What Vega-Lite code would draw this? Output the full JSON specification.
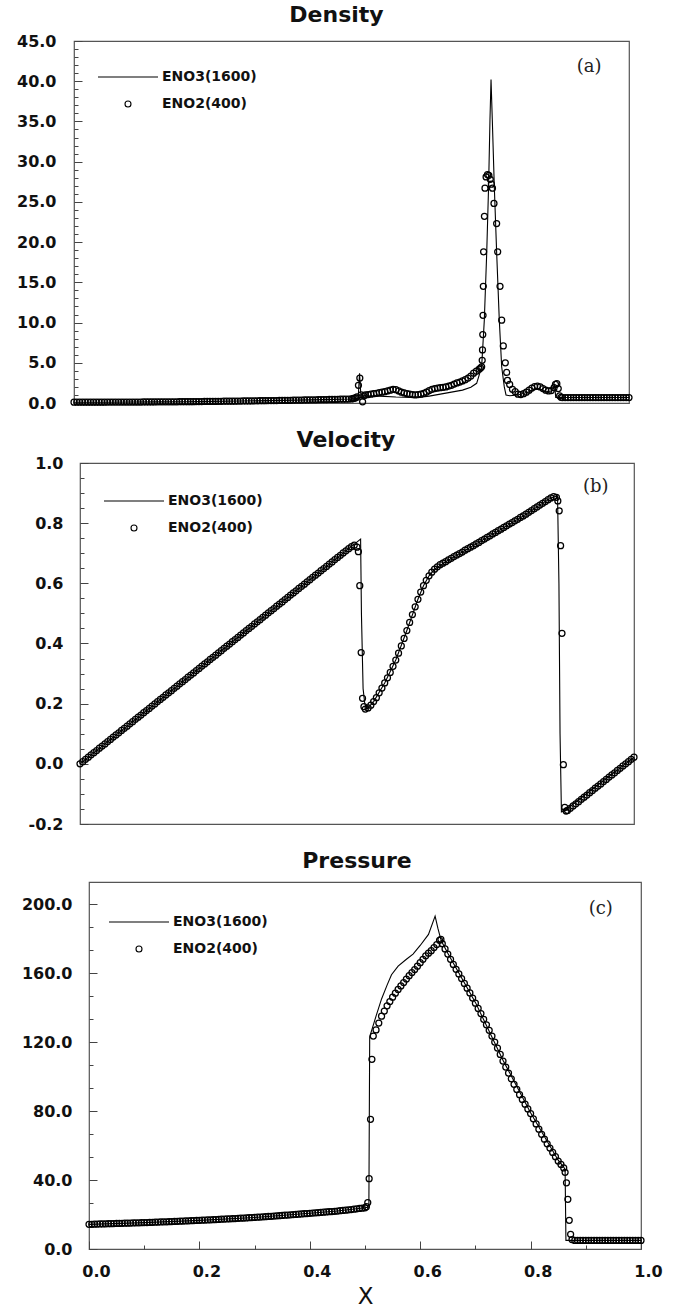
{
"$schema": "https://vega.github.io/schema/vega-lite/v6.json",
"padding": {"left": 0, "top": 3, "right": 0, "bottom": 0},
"background": "white",
"spacing": 16,
"resolve": {"scale": {"shape": "independent", "size": "independent"}, "legend": {"shape": "independent", "size": "independent"}},
"config": {
  "view": {"stroke": "#555", "strokeWidth": 1.2},
  "axis": {"labelFont": "DejaVu Sans", "labelFontWeight": "bold", "labelFontSize": 16, "labelColor": "#111", "tickColor": "#444", "tickWidth": 1, "domain": false, "grid": false, "labelOverlap": false, "labelBound": false, "labelFlush": false, "title": null, "tickCount": 100},
  "title": {"font": "DejaVu Sans", "fontWeight": "bold", "fontSize": 22, "color": "#111", "anchor": "middle", "frame": "group", "baseline": "alphabetic"},
  "legend": {"labelFont": "DejaVu Sans", "labelFontWeight": "bold", "labelFontSize": 14, "labelColor": "#111", "symbolStrokeColor": "black", "symbolStrokeWidth": 1.1, "labelOffset": 3, "padding": 0, "rowPadding": 13}
},
"datasets": {
"den": [{"x":0,"a":0.1,"b":0.1},{"x":0.005,"b":0.1},{"x":0.01,"b":0.1},{"x":0.015,"b":0.1},{"x":0.02,"b":0.1},{"x":0.025,"b":0.1},{"x":0.03,"b":0.1},{"x":0.035,"b":0.1},{"x":0.04,"b":0.1},{"x":0.045,"b":0.1},{"x":0.05,"a":0.1,"b":0.1},{"x":0.055,"b":0.1},{"x":0.06,"b":0.11},{"x":0.065,"b":0.11},{"x":0.07,"b":0.11},{"x":0.075,"b":0.11},{"x":0.08,"b":0.11},{"x":0.085,"b":0.11},{"x":0.09,"b":0.11},{"x":0.095,"b":0.11},{"x":0.1,"a":0.12,"b":0.12},{"x":0.105,"b":0.12},{"x":0.11,"b":0.12},{"x":0.115,"b":0.12},{"x":0.12,"b":0.12},{"x":0.125,"b":0.13},{"x":0.13,"b":0.13},{"x":0.135,"b":0.13},{"x":0.14,"b":0.13},{"x":0.145,"b":0.13},{"x":0.15,"a":0.14,"b":0.14},{"x":0.155,"b":0.14},{"x":0.16,"b":0.14},{"x":0.165,"b":0.14},{"x":0.17,"b":0.15},{"x":0.175,"b":0.15},{"x":0.18,"b":0.15},{"x":0.185,"b":0.15},{"x":0.19,"b":0.16},{"x":0.195,"b":0.16},{"x":0.2,"a":0.16,"b":0.16},{"x":0.205,"b":0.17},{"x":0.21,"b":0.17},{"x":0.215,"b":0.17},{"x":0.22,"b":0.18},{"x":0.225,"b":0.18},{"x":0.23,"b":0.18},{"x":0.235,"b":0.19},{"x":0.24,"b":0.19},{"x":0.245,"b":0.2},{"x":0.25,"a":0.2,"b":0.2},{"x":0.255,"b":0.2},{"x":0.26,"b":0.21},{"x":0.265,"b":0.21},{"x":0.27,"b":0.22},{"x":0.275,"b":0.22},{"x":0.28,"b":0.23},{"x":0.285,"b":0.23},{"x":0.29,"b":0.23},{"x":0.295,"b":0.24},{"x":0.3,"a":0.24,"b":0.24},{"x":0.305,"b":0.25},{"x":0.31,"b":0.25},{"x":0.315,"b":0.26},{"x":0.32,"b":0.26},{"x":0.325,"b":0.27},{"x":0.33,"b":0.27},{"x":0.335,"b":0.28},{"x":0.34,"b":0.28},{"x":0.345,"b":0.29},{"x":0.35,"a":0.3,"b":0.3},{"x":0.355,"b":0.3},{"x":0.36,"b":0.31},{"x":0.365,"b":0.31},{"x":0.37,"b":0.32},{"x":0.375,"b":0.33},{"x":0.38,"b":0.33},{"x":0.385,"b":0.34},{"x":0.39,"b":0.34},{"x":0.395,"b":0.35},{"x":0.4,"a":0.36,"b":0.36},{"x":0.405,"b":0.36},{"x":0.41,"b":0.37},{"x":0.415,"b":0.38},{"x":0.42,"b":0.38},{"x":0.425,"b":0.39},{"x":0.43,"b":0.4},{"x":0.435,"b":0.4},{"x":0.44,"b":0.41},{"x":0.445,"b":0.42},{"x":0.45,"a":0.42,"b":0.42},{"x":0.455,"b":0.43},{"x":0.46,"b":0.44},{"x":0.465,"b":0.45},{"x":0.47,"b":0.45},{"x":0.475,"b":0.46},{"x":0.48,"b":0.47},{"x":0.485,"b":0.48},{"x":0.49,"b":0.48},{"x":0.495,"b":0.49},{"x":0.5,"a":0.5,"b":0.5},{"x":0.5025,"b":0.55},{"x":0.505,"b":0.6},{"x":0.5075,"b":0.65},{"x":0.51,"b":0.75},{"x":0.512,"a":0.58},{"x":0.5125,"b":2.2},{"x":0.5145,"a":3.7},{"x":0.515,"b":3.1},{"x":0.517,"a":0.85},{"x":0.5175,"b":1.0},{"x":0.52,"a":0.9,"b":0.15},{"x":0.5225,"b":0.9},{"x":0.525,"b":1.0},{"x":0.53,"b":1.05},{"x":0.535,"b":1.1},{"x":0.54,"b":1.15},{"x":0.545,"b":1.2},{"x":0.55,"a":0.85,"b":1.3},{"x":0.555,"b":1.35},{"x":0.56,"b":1.4},{"x":0.565,"b":1.5},{"x":0.57,"b":1.6},{"x":0.575,"b":1.7},{"x":0.58,"a":0.75,"b":1.65},{"x":0.585,"b":1.5},{"x":0.59,"b":1.35},{"x":0.595,"b":1.25},{"x":0.6,"b":1.15},{"x":0.605,"b":1.1},{"x":0.61,"a":0.7,"b":1.05},{"x":0.615,"b":1.0},{"x":0.62,"a":0.7,"b":1.05},{"x":0.625,"b":1.1},{"x":0.63,"b":1.2},{"x":0.635,"b":1.35},{"x":0.64,"a":0.85,"b":1.55},{"x":0.645,"b":1.7},{"x":0.65,"b":1.8},{"x":0.655,"b":1.85},{"x":0.66,"a":1.1,"b":1.9},{"x":0.665,"b":1.95},{"x":0.67,"b":2.0},{"x":0.675,"b":2.1},{"x":0.68,"a":1.35,"b":2.2},{"x":0.685,"b":2.35},{"x":0.69,"b":2.5},{"x":0.695,"b":2.6},{"x":0.7,"a":1.6,"b":2.75},{"x":0.705,"b":2.9},{"x":0.71,"b":3.1},{"x":0.715,"a":1.95,"b":3.35},{"x":0.72,"b":3.7},{"x":0.725,"b":3.95},{"x":0.7255,"a":2.45},{"x":0.73,"b":4.2},{"x":0.7325,"b":4.35},{"x":0.7345,"a":4.5,"b":4.5},{"x":0.7355,"b":5.3},{"x":0.736,"b":6.6},{"x":0.7365,"b":8.5},{"x":0.737,"b":10.9},{"x":0.7375,"b":14.5},{"x":0.738,"b":18.8},{"x":0.7393,"a":10.3},{"x":0.7395,"b":23.2},{"x":0.7405,"b":26.7},{"x":0.7425,"b":28.1},{"x":0.7436,"a":18.6},{"x":0.745,"b":28.4},{"x":0.747,"a":26.9},{"x":0.7475,"b":28.3},{"x":0.7495,"a":35.2},{"x":0.75,"b":27.8},{"x":0.7514,"a":40.2},{"x":0.752,"b":27.2},{"x":0.7537,"a":35.2},{"x":0.754,"b":26.7},{"x":0.7567,"b":24.8},{"x":0.7573,"a":26.9},{"x":0.7615,"b":22.3},{"x":0.7616,"a":18.6},{"x":0.7634,"b":18.8},{"x":0.7663,"a":10.3},{"x":0.7676,"b":14.5},{"x":0.7706,"a":4.5,"b":10.3},{"x":0.7735,"b":7.1},{"x":0.7753,"a":2.0},{"x":0.7771,"b":5.0},{"x":0.7784,"a":1.0},{"x":0.7796,"b":3.8},{"x":0.781,"b":2.8},{"x":0.785,"a":0.9,"b":2.3},{"x":0.79,"b":1.7},{"x":0.795,"b":1.4},{"x":0.8,"a":1.0,"b":1.1},{"x":0.805,"b":1.05},{"x":0.81,"b":1.15},{"x":0.815,"b":1.35},{"x":0.82,"a":1.4,"b":1.6},{"x":0.825,"b":1.85},{"x":0.83,"a":1.7,"b":2.05},{"x":0.835,"b":2.1},{"x":0.84,"a":1.7,"b":2.0},{"x":0.845,"b":1.8},{"x":0.85,"a":1.4,"b":1.6},{"x":0.855,"b":1.5},{"x":0.86,"a":1.5,"b":1.55},{"x":0.865,"b":1.9},{"x":0.866,"a":2.2},{"x":0.8675,"b":2.3},{"x":0.868,"a":0.7},{"x":0.87,"b":2.4},{"x":0.8725,"b":1.8},{"x":0.875,"b":0.9},{"x":0.8775,"b":0.7},{"x":0.88,"a":0.68,"b":0.68},{"x":0.885,"b":0.68},{"x":0.89,"b":0.68},{"x":0.895,"b":0.68},{"x":0.9,"b":0.68},{"x":0.905,"b":0.68},{"x":0.91,"b":0.68},{"x":0.915,"b":0.68},{"x":0.92,"b":0.68},{"x":0.925,"b":0.68},{"x":0.93,"b":0.68},{"x":0.935,"b":0.68},{"x":0.94,"b":0.68},{"x":0.945,"b":0.68},{"x":0.95,"b":0.68},{"x":0.955,"b":0.68},{"x":0.96,"b":0.68},{"x":0.965,"b":0.68},{"x":0.97,"b":0.68},{"x":0.975,"b":0.68},{"x":0.98,"b":0.68},{"x":0.985,"b":0.68},{"x":0.99,"b":0.68},{"x":0.995,"b":0.68},{"x":1,"a":0.68,"b":0.68}],
"vel": [{"x":0,"a":0,"b":0},{"x":0.005,"b":0.007},{"x":0.01,"b":0.015},{"x":0.015,"b":0.022},{"x":0.02,"b":0.03},{"x":0.025,"b":0.037},{"x":0.03,"b":0.044},{"x":0.035,"b":0.052},{"x":0.04,"b":0.059},{"x":0.045,"b":0.066},{"x":0.05,"b":0.074},{"x":0.055,"b":0.081},{"x":0.06,"b":0.089},{"x":0.065,"b":0.096},{"x":0.07,"b":0.103},{"x":0.075,"b":0.111},{"x":0.08,"b":0.118},{"x":0.085,"b":0.125},{"x":0.09,"b":0.133},{"x":0.095,"b":0.14},{"x":0.1,"b":0.148},{"x":0.105,"b":0.155},{"x":0.11,"b":0.162},{"x":0.115,"b":0.17},{"x":0.12,"b":0.177},{"x":0.125,"b":0.184},{"x":0.13,"b":0.192},{"x":0.135,"b":0.199},{"x":0.14,"b":0.207},{"x":0.145,"b":0.214},{"x":0.15,"b":0.221},{"x":0.155,"b":0.229},{"x":0.16,"b":0.236},{"x":0.165,"b":0.243},{"x":0.17,"b":0.251},{"x":0.175,"b":0.258},{"x":0.18,"b":0.266},{"x":0.185,"b":0.273},{"x":0.19,"b":0.28},{"x":0.195,"b":0.288},{"x":0.2,"b":0.295},{"x":0.205,"b":0.302},{"x":0.21,"b":0.31},{"x":0.215,"b":0.317},{"x":0.22,"b":0.325},{"x":0.225,"b":0.332},{"x":0.23,"b":0.339},{"x":0.235,"b":0.347},{"x":0.24,"b":0.354},{"x":0.245,"b":0.361},{"x":0.25,"a":0.369,"b":0.369},{"x":0.255,"b":0.376},{"x":0.26,"b":0.384},{"x":0.265,"b":0.391},{"x":0.27,"b":0.398},{"x":0.275,"b":0.406},{"x":0.28,"b":0.413},{"x":0.285,"b":0.42},{"x":0.29,"b":0.428},{"x":0.295,"b":0.435},{"x":0.3,"b":0.443},{"x":0.305,"b":0.45},{"x":0.31,"b":0.457},{"x":0.315,"b":0.465},{"x":0.32,"b":0.472},{"x":0.325,"b":0.479},{"x":0.33,"b":0.487},{"x":0.335,"b":0.494},{"x":0.34,"b":0.502},{"x":0.345,"b":0.509},{"x":0.35,"b":0.516},{"x":0.355,"b":0.524},{"x":0.36,"b":0.531},{"x":0.365,"b":0.538},{"x":0.37,"b":0.546},{"x":0.375,"b":0.553},{"x":0.38,"b":0.561},{"x":0.385,"b":0.568},{"x":0.39,"b":0.575},{"x":0.395,"b":0.583},{"x":0.4,"b":0.59},{"x":0.405,"b":0.597},{"x":0.41,"b":0.605},{"x":0.415,"b":0.612},{"x":0.42,"b":0.62},{"x":0.425,"b":0.627},{"x":0.43,"b":0.634},{"x":0.435,"b":0.642},{"x":0.44,"b":0.649},{"x":0.445,"b":0.656},{"x":0.45,"b":0.664},{"x":0.455,"b":0.671},{"x":0.46,"b":0.679},{"x":0.465,"b":0.686},{"x":0.47,"b":0.693},{"x":0.475,"b":0.701},{"x":0.48,"b":0.708},{"x":0.485,"b":0.715},{"x":0.49,"b":0.722},{"x":0.495,"b":0.727},{"x":0.5,"b":0.72},{"x":0.5025,"b":0.705},{"x":0.505,"b":0.592},{"x":0.5065,"a":0.747},{"x":0.5075,"b":0.37},{"x":0.508,"a":0.5},{"x":0.51,"b":0.218},{"x":0.511,"a":0.25},{"x":0.5125,"b":0.19},{"x":0.514,"a":0.2},{"x":0.515,"b":0.182},{"x":0.518,"a":0.182},{"x":0.52,"b":0.186},{"x":0.525,"b":0.195},{"x":0.53,"a":0.207,"b":0.207},{"x":0.535,"b":0.22},{"x":0.54,"b":0.236},{"x":0.545,"b":0.252},{"x":0.55,"a":0.269,"b":0.269},{"x":0.555,"b":0.286},{"x":0.56,"b":0.304},{"x":0.565,"b":0.324},{"x":0.57,"a":0.345,"b":0.345},{"x":0.575,"b":0.368},{"x":0.58,"b":0.392},{"x":0.585,"b":0.417},{"x":0.59,"a":0.443,"b":0.443},{"x":0.595,"b":0.47},{"x":0.6,"b":0.496},{"x":0.605,"b":0.522},{"x":0.61,"a":0.547,"b":0.547},{"x":0.615,"b":0.571},{"x":0.62,"a":0.592,"b":0.592},{"x":0.625,"b":0.61},{"x":0.63,"a":0.625,"b":0.625},{"x":0.635,"b":0.637},{"x":0.64,"a":0.647,"b":0.647},{"x":0.645,"b":0.655},{"x":0.65,"b":0.662},{"x":0.655,"b":0.667},{"x":0.66,"a":0.672,"b":0.672},{"x":0.665,"b":0.678},{"x":0.67,"b":0.683},{"x":0.675,"b":0.689},{"x":0.68,"b":0.694},{"x":0.685,"b":0.699},{"x":0.69,"b":0.704},{"x":0.695,"b":0.71},{"x":0.7,"a":0.715,"b":0.715},{"x":0.705,"b":0.72},{"x":0.71,"b":0.725},{"x":0.715,"b":0.731},{"x":0.72,"b":0.736},{"x":0.725,"b":0.742},{"x":0.73,"b":0.747},{"x":0.735,"b":0.753},{"x":0.74,"b":0.758},{"x":0.745,"b":0.764},{"x":0.75,"a":0.769,"b":0.769},{"x":0.755,"b":0.775},{"x":0.76,"b":0.78},{"x":0.765,"b":0.786},{"x":0.77,"b":0.791},{"x":0.775,"b":0.797},{"x":0.78,"b":0.802},{"x":0.785,"b":0.808},{"x":0.79,"b":0.813},{"x":0.795,"b":0.819},{"x":0.8,"a":0.824,"b":0.824},{"x":0.805,"b":0.83},{"x":0.81,"b":0.836},{"x":0.815,"b":0.842},{"x":0.82,"b":0.848},{"x":0.825,"b":0.854},{"x":0.83,"b":0.86},{"x":0.835,"b":0.866},{"x":0.84,"b":0.872},{"x":0.845,"b":0.878},{"x":0.85,"a":0.884,"b":0.884},{"x":0.855,"b":0.888},{"x":0.86,"b":0.886},{"x":0.862,"a":0.891},{"x":0.8625,"b":0.874},{"x":0.8645,"a":0.6},{"x":0.865,"b":0.841},{"x":0.8665,"a":0.1},{"x":0.8675,"b":0.725},{"x":0.869,"a":-0.16},{"x":0.87,"b":0.434},{"x":0.8725,"b":-0.003},{"x":0.875,"a":-0.155,"b":-0.145},{"x":0.8775,"b":-0.157},{"x":0.88,"b":-0.155},{"x":0.885,"b":-0.148},{"x":0.89,"b":-0.14},{"x":0.895,"b":-0.133},{"x":0.9,"b":-0.126},{"x":0.905,"b":-0.118},{"x":0.91,"b":-0.111},{"x":0.915,"b":-0.104},{"x":0.92,"b":-0.096},{"x":0.925,"b":-0.089},{"x":0.93,"b":-0.081},{"x":0.935,"b":-0.074},{"x":0.94,"b":-0.067},{"x":0.945,"b":-0.059},{"x":0.95,"b":-0.052},{"x":0.955,"b":-0.044},{"x":0.96,"b":-0.037},{"x":0.965,"b":-0.03},{"x":0.97,"b":-0.022},{"x":0.975,"b":-0.015},{"x":0.98,"b":-0.007},{"x":0.985,"b":0},{"x":0.99,"b":0.007},{"x":0.995,"b":0.015},{"x":1,"a":0.022,"b":0.022}],
"pre": [{"x":0,"a":14.3,"b":14.3},{"x":0.005,"b":14.35},{"x":0.01,"b":14.4},{"x":0.015,"b":14.45},{"x":0.02,"b":14.5},{"x":0.025,"b":14.55},{"x":0.03,"b":14.6},{"x":0.035,"b":14.65},{"x":0.04,"b":14.7},{"x":0.045,"b":14.75},{"x":0.05,"b":14.8},{"x":0.055,"b":14.85},{"x":0.06,"b":14.9},{"x":0.065,"b":14.95},{"x":0.07,"b":15.0},{"x":0.075,"b":15.05},{"x":0.08,"b":15.1},{"x":0.085,"b":15.15},{"x":0.09,"b":15.2},{"x":0.095,"b":15.25},{"x":0.1,"a":15.3,"b":15.3},{"x":0.105,"b":15.36},{"x":0.11,"b":15.42},{"x":0.115,"b":15.48},{"x":0.12,"b":15.54},{"x":0.125,"b":15.6},{"x":0.13,"b":15.67},{"x":0.135,"b":15.74},{"x":0.14,"b":15.8},{"x":0.145,"b":15.87},{"x":0.15,"b":15.94},{"x":0.155,"b":16.0},{"x":0.16,"b":16.07},{"x":0.165,"b":16.14},{"x":0.17,"b":16.2},{"x":0.175,"b":16.27},{"x":0.18,"b":16.34},{"x":0.185,"b":16.4},{"x":0.19,"b":16.47},{"x":0.195,"b":16.54},{"x":0.2,"a":16.6,"b":16.6},{"x":0.205,"b":16.68},{"x":0.21,"b":16.76},{"x":0.215,"b":16.84},{"x":0.22,"b":16.92},{"x":0.225,"b":17.0},{"x":0.23,"b":17.09},{"x":0.235,"b":17.17},{"x":0.24,"b":17.26},{"x":0.245,"b":17.34},{"x":0.25,"b":17.43},{"x":0.255,"b":17.51},{"x":0.26,"b":17.6},{"x":0.265,"b":17.68},{"x":0.27,"b":17.77},{"x":0.275,"b":17.86},{"x":0.28,"b":17.95},{"x":0.285,"b":18.04},{"x":0.29,"b":18.13},{"x":0.295,"b":18.22},{"x":0.3,"a":18.3,"b":18.3},{"x":0.305,"b":18.41},{"x":0.31,"b":18.52},{"x":0.315,"b":18.63},{"x":0.32,"b":18.75},{"x":0.325,"b":18.86},{"x":0.33,"b":18.98},{"x":0.335,"b":19.1},{"x":0.34,"b":19.22},{"x":0.345,"b":19.34},{"x":0.35,"b":19.46},{"x":0.355,"b":19.58},{"x":0.36,"b":19.7},{"x":0.365,"b":19.82},{"x":0.37,"b":19.95},{"x":0.375,"b":20.07},{"x":0.38,"b":20.2},{"x":0.385,"b":20.32},{"x":0.39,"b":20.45},{"x":0.395,"b":20.57},{"x":0.4,"a":20.7,"b":20.7},{"x":0.405,"b":20.83},{"x":0.41,"b":20.96},{"x":0.415,"b":21.09},{"x":0.42,"b":21.22},{"x":0.425,"b":21.35},{"x":0.43,"b":21.48},{"x":0.435,"b":21.61},{"x":0.44,"b":21.74},{"x":0.445,"b":21.87},{"x":0.45,"a":22.0,"b":22.0},{"x":0.455,"b":22.18},{"x":0.46,"b":22.36},{"x":0.465,"b":22.54},{"x":0.47,"b":22.72},{"x":0.475,"b":22.9},{"x":0.48,"b":23.1},{"x":0.485,"b":23.3},{"x":0.49,"b":23.5},{"x":0.495,"b":23.7},{"x":0.5,"a":23.9,"b":23.9},{"x":0.5025,"b":24.5},{"x":0.505,"b":26.9},{"x":0.507,"a":24.3},{"x":0.5075,"b":40.8},{"x":0.5085,"a":123},{"x":0.51,"b":75.2},{"x":0.5125,"b":110},{"x":0.515,"b":123.5},{"x":0.52,"a":135,"b":127},{"x":0.525,"b":131},{"x":0.53,"a":145,"b":135},{"x":0.535,"b":138},{"x":0.54,"a":153,"b":141},{"x":0.545,"b":143.5},{"x":0.548,"a":159},{"x":0.55,"b":146},{"x":0.555,"b":148.3},{"x":0.56,"a":164,"b":150.5},{"x":0.565,"b":152.5},{"x":0.57,"b":154.5},{"x":0.575,"a":168,"b":156.5},{"x":0.58,"b":158.5},{"x":0.585,"b":160.3},{"x":0.587,"a":171},{"x":0.59,"b":162},{"x":0.595,"b":164},{"x":0.6,"a":176,"b":166},{"x":0.605,"b":168},{"x":0.61,"b":170},{"x":0.615,"a":182.4,"b":171.5},{"x":0.62,"b":173},{"x":0.625,"b":174.8},{"x":0.627,"a":193},{"x":0.63,"b":176.5},{"x":0.632,"a":186},{"x":0.635,"b":179},{"x":0.637,"a":180},{"x":0.6375,"b":179.5},{"x":0.64,"a":177.5,"b":177},{"x":0.645,"b":174},{"x":0.65,"a":171.5,"b":171},{"x":0.655,"b":168},{"x":0.66,"b":165},{"x":0.665,"b":162.2},{"x":0.67,"b":159.5},{"x":0.675,"b":156.8},{"x":0.68,"b":154},{"x":0.685,"b":151.2},{"x":0.69,"b":148.5},{"x":0.695,"b":145.5},{"x":0.7,"a":143,"b":142.5},{"x":0.705,"b":139.5},{"x":0.71,"b":136.5},{"x":0.715,"b":133.2},{"x":0.72,"b":130},{"x":0.725,"b":126.8},{"x":0.73,"b":123.5},{"x":0.735,"b":120},{"x":0.74,"b":116.5},{"x":0.745,"b":112.8},{"x":0.75,"a":109.5,"b":109},{"x":0.755,"b":105.5},{"x":0.76,"b":102},{"x":0.765,"b":98.7},{"x":0.77,"b":95.5},{"x":0.775,"b":92.5},{"x":0.78,"b":89.5},{"x":0.785,"b":86.7},{"x":0.79,"b":84},{"x":0.795,"b":81.2},{"x":0.8,"a":79,"b":78.5},{"x":0.805,"b":75.5},{"x":0.81,"b":72.5},{"x":0.815,"b":69.5},{"x":0.82,"b":66.5},{"x":0.825,"b":63.7},{"x":0.83,"b":61},{"x":0.835,"b":58.5},{"x":0.84,"b":56},{"x":0.845,"b":53.5},{"x":0.85,"a":51.5,"b":51},{"x":0.855,"b":49},{"x":0.86,"a":47.5,"b":47},{"x":0.8625,"a":46,"b":44.5},{"x":0.864,"a":5},{"x":0.865,"b":38.4},{"x":0.8675,"b":28.8},{"x":0.87,"b":16.6},{"x":0.8725,"b":8.5},{"x":0.875,"b":5.5},{"x":0.88,"b":5},{"x":0.885,"b":5},{"x":0.89,"b":5},{"x":0.895,"b":5},{"x":0.9,"b":5},{"x":0.905,"b":5},{"x":0.91,"b":5},{"x":0.915,"b":5},{"x":0.92,"b":5},{"x":0.925,"b":5},{"x":0.93,"b":5},{"x":0.935,"b":5},{"x":0.94,"b":5},{"x":0.945,"b":5},{"x":0.95,"b":5},{"x":0.955,"b":5},{"x":0.96,"b":5},{"x":0.965,"b":5},{"x":0.97,"b":5},{"x":0.975,"b":5},{"x":0.98,"b":5},{"x":0.985,"b":5},{"x":0.99,"b":5},{"x":0.995,"b":5},{"x":1,"a":5,"b":5}]
},
"vconcat": [
{"spacing": 0, "resolve": {"scale": {"shape": "independent", "size": "independent"}, "legend": {"shape": "independent", "size": "independent"}},
 "hconcat": [
{"width": 3, "height": 1, "view": {"stroke": null}, "data": {"values": [{}]}, "mark": {"type": "point", "size": 0, "opacity": 0}},
{
  "width": 555, "height": 362,
  "title": {"text": "Density", "offset": 6, "dx": -15},
  "data": {"name": "den"},
  "encoding": {"x": {"field": "x", "type": "quantitative", "scale": {"domain": [0, 1], "nice": false, "zero": false}, "axis": null}},
  "layer": [
    {"transform": [{"filter": {"field": "a", "valid": true}}],
     "mark": {"type": "line", "color": "black", "strokeWidth": 1.1, "invalid": "filter"},
     "encoding": {"y": {"field": "a", "type": "quantitative", "scale": {"domain": [0, 45], "nice": false},
        "axis": {"values": [0,1,2,3,4,5,6,7,8,9,10,11,12,13,14,15,16,17,18,19,20,21,22,23,24,25,26,27,28,29,30,31,32,33,34,35,36,37,38,39,40,41,42,43,44,45],
          "labelExpr": "datum.value % 5 == 0 ? format(datum.value, '.1f') : ''",
          "tickSize": {"condition": {"test": "datum.value % 5 == 0", "value": -8}, "value": -4},
          "tickCount": 100, "labelOverlap": false, "labelPadding": 26, "minExtent": 70, "maxExtent": 70}}}},
    {"transform": [{"fold": ["a", "b"], "as": ["key", "value"]}, {"filter": "datum.key == 'b'"}],
     "mark": {"type": "point", "filled": false, "color": "black", "strokeWidth": 1.25, "opacity": 1},
     "encoding": {
       "y": {"field": "value", "type": "quantitative", "scale": {"domain": [0, 45], "nice": false}},
       "shape": {"field": "key", "type": "nominal", "scale": {"domain": ["a", "b"], "range": ["stroke", "circle"]},
         "legend": {"title": null, "orient": "none", "legendX": 23, "legendY": 5, "labelExpr": "datum.label == 'a' ? 'ENO3(1600)' : 'ENO2(400)'"}},
       "size": {"field": "key", "type": "nominal", "scale": {"domain": ["a", "b"], "range": [3600, 36]},
         "legend": {"title": null, "orient": "none", "legendX": 23, "legendY": 5, "labelExpr": "datum.label == 'a' ? 'ENO3(1600)' : 'ENO2(400)'"}}
     }},
    {"transform": [{"filter": "datum.x == 1"}],
     "mark": {"type": "text", "text": "(a)", "font": "DejaVu Serif", "fontSize": 18, "color": "#222"},
     "encoding": {"x": {"datum": 0.928, "type": "quantitative"}, "y": {"datum": 41.8, "type": "quantitative"}}}
  ]
}]},
{"spacing": 0, "resolve": {"scale": {"shape": "independent", "size": "independent"}, "legend": {"shape": "independent", "size": "independent"}},
 "hconcat": [
{"width": 9, "height": 1, "view": {"stroke": null}, "data": {"values": [{}]}, "mark": {"type": "point", "size": 0, "opacity": 0}},
{
  "width": 554, "height": 361,
  "title": {"text": "Velocity", "offset": 3, "dx": -11},
  "data": {"name": "vel"},
  "encoding": {"x": {"field": "x", "type": "quantitative", "scale": {"domain": [0, 1], "nice": false, "zero": false}, "axis": null}},
  "layer": [
    {"transform": [{"filter": {"field": "a", "valid": true}}],
     "mark": {"type": "line", "color": "black", "strokeWidth": 1.1, "invalid": "filter"},
     "encoding": {"y": {"field": "a", "type": "quantitative", "scale": {"domain": [-0.2, 1.0], "nice": false, "zero": false},
        "axis": {"values": [-0.2,-0.15,-0.1,-0.05,0,0.05,0.1,0.15,0.2,0.25,0.3,0.35,0.4,0.45,0.5,0.55,0.6,0.65,0.7,0.75,0.8,0.85,0.9,0.95,1.0],
          "labelExpr": "abs(round(datum.value * 20)) % 4 == 0 ? replace(format(datum.value, '.1f'), '−', '-') : ''",
          "tickSize": {"condition": {"test": "abs(round(datum.value * 20)) % 4 == 0", "value": -8}, "value": -4},
          "tickCount": 100, "labelOverlap": false, "labelPadding": 25, "minExtent": 70, "maxExtent": 70}}}},
    {"transform": [{"fold": ["a", "b"], "as": ["key", "value"]}, {"filter": "datum.key == 'b'"}],
     "mark": {"type": "point", "filled": false, "color": "black", "strokeWidth": 1.25, "opacity": 1},
     "encoding": {
       "y": {"field": "value", "type": "quantitative", "scale": {"domain": [-0.2, 1.0], "nice": false, "zero": false}},
       "shape": {"field": "key", "type": "nominal", "scale": {"domain": ["a", "b"], "range": ["stroke", "circle"]},
         "legend": {"title": null, "orient": "none", "legendX": 23, "legendY": 7, "labelExpr": "datum.label == 'a' ? 'ENO3(1600)' : 'ENO2(400)'"}},
       "size": {"field": "key", "type": "nominal", "scale": {"domain": ["a", "b"], "range": [3600, 36]},
         "legend": {"title": null, "orient": "none", "legendX": 23, "legendY": 7, "labelExpr": "datum.label == 'a' ? 'ENO3(1600)' : 'ENO2(400)'"}}
     }},
    {"transform": [{"filter": "datum.x == 1"}],
     "mark": {"type": "text", "text": "(b)", "font": "DejaVu Serif", "fontSize": 18, "color": "#222"},
     "encoding": {"x": {"datum": 0.931, "type": "quantitative"}, "y": {"datum": 0.919, "type": "quantitative"}}}
  ]
}]},
{"spacing": 0, "resolve": {"scale": {"shape": "independent", "size": "independent"}, "legend": {"shape": "independent", "size": "independent"}},
 "hconcat": [
{"width": 18, "height": 1, "view": {"stroke": null}, "data": {"values": [{}]}, "mark": {"type": "point", "size": 0, "opacity": 0}},
{
  "width": 552, "height": 367,
  "title": {"text": "Pressure", "offset": 9, "dx": -8},
  "data": {"name": "pre"},
  "encoding": {"x": {"field": "x", "type": "quantitative", "scale": {"domain": [0, 1], "nice": false, "zero": false},
     "axis": {"values": [0,0.1,0.2,0.3,0.4,0.5,0.6,0.7,0.8,0.9,1.0],
       "labelExpr": "round(datum.value * 10) % 2 == 0 ? format(datum.value, '.1f') : ''",
       "tickSize": {"condition": {"test": "round(datum.value * 10) % 2 == 0", "value": -8}, "value": -4},
       "tickCount": 100, "labelOverlap": false, "labelPadding": 22, "labelOffset": 7,
       "title": "X", "titleFont": "DejaVu Sans", "titleFontSize": 23, "titleFontWeight": "normal", "titleColor": "#111", "titlePadding": 2}}},
  "layer": [
    {"transform": [{"filter": {"field": "a", "valid": true}}],
     "mark": {"type": "line", "color": "black", "strokeWidth": 1.1, "invalid": "filter"},
     "encoding": {"y": {"field": "a", "type": "quantitative", "scale": {"domain": [0, 212.8], "nice": false},
        "axis": {"values": [0,13.333,26.667,40,53.333,66.667,80,93.333,106.667,120,133.333,146.667,160,173.333,186.667,200],
          "labelExpr": "abs(datum.value % 40) < 0.01 ? format(datum.value, '.1f') : ''",
          "tickSize": {"condition": {"test": "abs(datum.value % 40) < 0.01", "value": -8}, "value": -4},
          "tickCount": 100, "labelOverlap": false, "labelPadding": 25, "minExtent": 70, "maxExtent": 70}}}},
    {"transform": [{"fold": ["a", "b"], "as": ["key", "value"]}, {"filter": "datum.key == 'b'"}],
     "mark": {"type": "point", "filled": false, "color": "black", "strokeWidth": 1.25, "opacity": 1},
     "encoding": {
       "y": {"field": "value", "type": "quantitative", "scale": {"domain": [0, 212.8], "nice": false}},
       "shape": {"field": "key", "type": "nominal", "scale": {"domain": ["a", "b"], "range": ["stroke", "circle"]},
         "legend": {"title": null, "orient": "none", "legendX": 19, "legendY": 9, "labelExpr": "datum.label == 'a' ? 'ENO3(1600)' : 'ENO2(400)'"}},
       "size": {"field": "key", "type": "nominal", "scale": {"domain": ["a", "b"], "range": [3600, 36]},
         "legend": {"title": null, "orient": "none", "legendX": 19, "legendY": 9, "labelExpr": "datum.label == 'a' ? 'ENO3(1600)' : 'ENO2(400)'"}}
     }},
    {"transform": [{"filter": "datum.x == 1"}],
     "mark": {"type": "text", "text": "(c)", "font": "DejaVu Serif", "fontSize": 18, "color": "#222"},
     "encoding": {"x": {"datum": 0.927, "type": "quantitative"}, "y": {"datum": 197, "type": "quantitative"}}}
  ]
}]}
]
}
